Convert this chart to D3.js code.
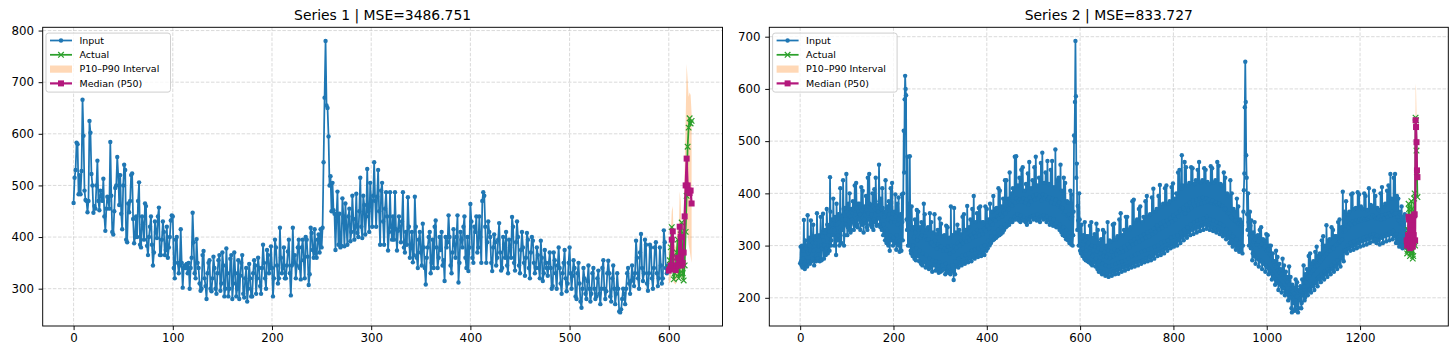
<!DOCTYPE html>
<html><head><meta charset="utf-8">
<script src="https://cdn.jsdelivr.net/npm/d3@7"></script>
<style>body{margin:0;background:#fff;} svg{display:block;font-family:"DejaVu Sans",sans-serif;}</style>
</head><body><svg id="c" width="1456" height="357"></svg>
<script>
const s1Title = "Series 1 | MSE=3486.751";
const s2Title = "Series 2 | MSE=833.727";
const legendLabels = ["Input", "Actual", "P10\u2013P90 Interval", "Median (P50)"];
const s1XTicks = [0, 100, 200, 300, 400, 500, 600];
const s1YTicks = [300, 400, 500, 600, 700, 800];
const s2XTicks = [0, 200, 400, 600, 800, 1000, 1200];
const s2YTicks = [200, 300, 400, 500, 600, 700];

const s1Input = [
466,515,530,583,580,483,520, 483,528,666,596,490,472,470, 448,470,625,602,522,500,447,
460,455,500,548,470,452,490, 480,470,513,440,412,455,478, 470,455,584,480,410,405,450,
495,500,555,520,462,520,445, 415,500,540,530,395,390,465, 448,470,520,523,435,388,400,
440,400,470,506,385,380,440, 425,395,465,460,383,365,400, 420,440,385,345,370,430,410,
398,440,457,365,365,395,430, 410,365,375,420,360,380,400, 432,442,440,340,320,395,400,
350,330,345,415,350,302,340, 345,340,348,330,350,300,340, 360,447,390,330,320,396,350,
340,310,296,300,365,373,320, 305,280,330,350,355,300,295, 320,362,340,300,290,330,355,
365,296,310,370,345,285,300, 378,330,285,300,358,365,280, 310,370,330,285,300,355,280,
325,350,365,290,283,320,340, 275,300,348,320,285,285,330, 355,345,290,320,360,340,305,
290,340,385,350,320,300,375, 365,330,340,382,340,285,320, 395,380,345,310,320,418,360,
330,340,380,320,320,345,372, 395,330,287,345,418,350,365, 320,345,380,395,340,318,380,
395,355,320,400,395,362,307, 328,418,408,375,360,415,368, 360,395,405,370,415,380,418,
545,670,780,655,650,595,500, 518,450,505,452,445,375,440, 488,385,445,380,383,475,440,
382,465,420,385,440,455,392, 410,480,435,395,420,484,408, 400,450,515,420,398,480,462,
405,440,532,450,410,505,470, 420,480,545,470,420,478,530, 450,385,490,505,430,385,455,
487,440,374,410,487,420,395, 440,395,487,415,374,412,440, 420,390,430,487,380,370,410,
385,477,420,360,380,410,351, 365,478,420,360,340,395,410, 370,345,426,380,340,308,360,
380,400,410,330,350,395,340, 420,432,380,340,360,400,375, 410,345,355,315,400,380,390,
442,400,345,330,370,415,385, 360,400,442,312,350,410,395, 380,420,440,360,340,400,334,
380,464,430,360,350,420,410, 440,370,380,440,400,350,470, 487,480,420,350,390,430,410,
400,350,334,380,405,390,345, 360,395,427,370,335,340,400, 385,360,410,345,330,395,380,
360,439,420,350,335,390,430, 400,345,330,375,410,380,350, 325,360,408,395,340,320,370,
400,393,350,330,340,380,365, 340,320,393,360,315,330,375, 350,340,325,350,370,340,300,
305,370,355,330,300,345,380, 340,310,290,330,350,375,320, 295,310,350,380,330,300,325,
355,340,285,280,330,350,310, 275,263,300,340,320,290,280, 315,345,300,275,290,330,340,
300,280,285,320,335,290,270, 300,340,355,300,280,295,330, 354,330,285,275,320,345,300,
270,290,330,300,256,254,260, 280,300,290,270,300,330,340, 310,290,315,345,320,305,330,
393,360,320,300,370,406,340, 315,330,395,385,310,296,330, 385,380,320,300,340,380,390,
330,305,320,380,345,310,320, 413,390,340,330,345
];
const s1Actual = [340,355,380,419,360,318,330,345,370,395,320,330,405,428,330,316,345,410,480,575,612,630,620,625];
const s1P10 = [310,312,318,345,350,312,310,308,315,325,318,345,340,315,318,330,365,405,425,405,385,375,362,350];
const s1P50 = [335,338,345,395,411,340,338,336,345,360,345,420,400,345,350,370,440,500,552,500,490,485,490,465];
const s1P90 = [370,385,405,450,460,392,385,380,400,425,405,488,470,405,415,445,530,625,735,705,672,680,675,640];

const s2Input = [
266,298,270,262,300,258,275, 290,349,265,255,310,295,262, 300,260,358,285,270,315,300,
265,290,348,310,270,275,305, 340,290,262,300,318,305,270, 280,362,320,275,290,318,298,
270,320,355,300,272,295,318, 361,310,275,300,325,330,282, 295,370,340,285,300,335,320,
290,431,365,300,310,350,340, 320,390,350,300,330,355,340, 282,380,340,310,320,360,345,
300,360,410,330,305,355,350, 330,425,370,300,320,372,350, 340,437,365,320,335,380,360,
330,400,355,325,330,370,350, 345,385,370,330,340,415,360, 338,420,372,340,335,380,365,
350,380,360,330,345,412,368, 340,405,372,325,350,375,360, 342,395,368,335,330,430,362,
350,437,380,340,345,378,360, 335,400,375,330,350,408,370, 345,430,378,338,340,372,365,
352,455,385,340,335,390,370, 330,410,372,320,340,365,355, 310,425,365,305,330,375,350,
300,385,360,290,320,410,345, 310,420,362,300,315,365,345, 305,398,355,292,320,380,340,
300,392,350,288,310,360,335, 290,398,345,310,400,520,440, 580,625,600,588,350,330,470,
300,380,345,300,471,340,290, 285,375,330,280,300,335,315, 275,350,325,272,295,368,310,
280,365,330,270,290,335,315, 265,345,320,262,285,340,380, 268,360,318,258,282,330,312,
260,335,312,255,275,362,305, 258,345,305,250,272,325,300, 262,360,310,252,270,322,295,
255,330,302,248,268,352,298, 250,342,298,252,262,318,290, 255,320,295,245,265,338,290,
250,335,298,248,260,315,285, 245,375,300,250,262,320,288, 234,372,298,245,270,325,296,
260,340,305,258,275,330,300, 265,322,310,262,280,355,305, 268,360,312,265,282,330,308,
270,376,315,268,285,335,310, 275,350,320,270,290,370,315, 278,395,325,275,292,345,318,
280,362,330,278,295,372,320, 285,375,328,280,298,345,322, 284,345,332,282,300,375,328,
290,370,338,295,310,350,332, 300,380,345,305,318,365,340, 310,395,350,312,325,370,348,
315,372,355,318,330,410,352, 320,405,360,322,335,375,356, 325,390,365,330,340,425,362,
335,425,372,338,345,390,370, 340,440,378,345,350,400,376, 345,410,385,350,355,470,382,
350,471,390,352,360,415,385, 348,430,388,345,358,445,384, 350,450,390,348,355,405,382,
345,418,388,340,352,438,378, 350,460,392,345,355,410,385, 355,425,395,350,358,450,388,
352,470,398,348,360,415,390, 350,430,395,345,355,458,386, 355,478,398,350,358,420,390,
352,440,395,345,355,462,388, 348,418,392,340,352,445,383, 345,462,390,338,350,412,380,
340,484,388,335,345,425,378, 335,430,382,330,340,455,372, 325,405,372,320,335,430,362,
318,420,365,312,330,385,358, 310,382,360,305,325,405,352, 302,398,355,300,320,365,511,
499,575,692,586,430,457,330, 376,348,300,400,350,290,310, 285,340,315,280,295,320,308,
275,345,310,272,290,318,300, 270,318,305,268,285,338,296, 265,345,300,262,280,315,290,
268,322,298,260,275,342,288, 255,330,295,250,270,305,284, 250,312,292,245,265,330,280,
248,325,288,242,262,300,278, 245,345,290,240,260,310,276, 248,308,288,242,262,340,280,
250,342,292,245,265,312,283, 252,318,290,246,268,350,286, 255,362,295,250,270,320,288,
258,330,298,252,272,355,292, 260,355,302,255,275,330,296, 262,335,308,258,280,385,302,
265,388,312,260,282,345,305, 268,350,315,262,285,370,308, 270,375,318,265,288,345,312,
272,355,322,268,290,385,316, 275,395,325,270,292,355,318, 278,360,328,272,295,392,322,
280,409,332,275,298,365,326, 285,370,338,280,300,395,330, 288,416,342,282,305,375,334,
290,380,346,285,308,410,338, 295,415,348,290,310,380,342, 298,385,352,295,315,412,346,
302,419,358,298,318,390,350, 305,400,362,300,320,440,356, 310,445,368,305,325,410,473,
315,415,372,310,330,460,362, 320,450,378,315,335,415,368, 325,420,382,320,340,450,372,
330,448,386,322,345,418,376, 332,425,388,325,348,445,378, 335,460,390,328,350,420,380,
338,425,392,330,352,448,382, 340,445,390,332,355,422,385, 338,418,388,330,350,452,382,
335,448,386,328,348,420,380, 332,425,383,325,345,460,378, 330,453,380,322,342,418,376,
325,415,376,318,338,440,370, 320,430,370,312,332,400,363, 315,395,362,305,325,425,356,
305,400,352,298,318,370,348, 300,365,348,292,312,390,343, 295,375,342,288,305,350,338,
290,345,338,285,300,365,406, 438,565,652,575,473,430,360, 330,400,345,300,320,365,338,
295,348,318,272,285,325,308, 280,345,312,265,278,318,302, 275,320,308,260,272,330,298,
270,335,302,255,268,312,295, 265,310,298,250,262,322,290, 258,320,292,245,255,300,282,
250,300,278,235,245,285,270, 240,270,262,225,235,290,258, 232,278,252,215,228,265,248,
225,255,245,210,220,275,240, 218,262,238,205,212,250,232, 210,240,230,195,205,260,225,
200,240,215,180,172,225,212, 190,220,208,175,178,235,202, 185,230,202,172,180,215,198,
195,222,212,180,190,235,208, 205,262,222,195,200,245,230, 210,255,238,205,215,280,242,
215,285,248,210,225,265,252, 222,270,255,215,230,288,260, 228,298,262,222,238,280,268,
235,285,270,230,245,310,275, 240,318,278,235,250,300,282, 245,339,285,240,255,310,290,
250,312,290,245,262,335,296, 255,330,295,250,268,318,300, 260,318,302,255,272,345,306,
265,350,308,260,278,335,312, 275,403,328,270,290,365,328, 290,385,338,285,300,360,335,
295,365,342,290,305,398,340, 298,400,346,292,308,370,343, 300,372,348,295,310,402,346,
305,398,350,298,312,375,348, 308,370,352,300,315,400,350, 310,395,350,302,318,368,352,
312,410,355,305,320,378,353, 315,375,358,308,322,405,355, 312,395,352,305,320,372,352,
310,368,355,302,318,400,350, 315,412,358,305,320,375,352, 318,380,360,308,322,405,355,
320,415,362,310,325,437,358, 322,390,365,312,328,430,360, 318,437,362,305,322,395,355,
305,390,348,298,312,365,342, 300,375,342,295,308,355,338, 298,360,332,296,310
];
const s2Actual = [300,285,290,330,380,370,295,280,285,300,385,370,290,275,280,305,390,400,300,545,540,482,440,393];
const s2P10 = [285,280,282,295,322,318,280,275,278,288,312,318,282,278,282,295,328,332,290,470,465,440,400,385];
const s2P50 = [310,300,305,320,355,350,300,295,300,310,340,350,300,298,305,320,358,360,310,540,527,498,444,431];
const s2P90 = [335,325,330,350,392,385,325,318,325,335,378,385,325,320,330,345,398,405,340,610,600,560,505,480];

const C_IN = "#1f77b4", C_ACT = "#2ca02c", C_BAND = "#ff7f0e", C_MED = "#b3177c";
const svg = d3.select("#c");

function xMark(sel, s) {
  return sel.append("path").attr("d", `M${-s},${-s}L${s},${s}M${-s},${s}L${s},${-s}`);
}

function drawPanel(cfg) {
  const {x0, x1, y0, y1} = cfg.box;
  const g = svg.append("g");
  const n = cfg.input.length, m = cfg.actual.length, last = n + m - 1;
  const x = d3.scaleLinear().domain([-0.05 * last, 1.05 * last]).range([x0, x1]);
  const all = [...cfg.input, ...cfg.actual, ...cfg.p10, ...cfg.p50, ...cfg.p90];
  const lo = d3.min(all), hi = d3.max(all), pad = 0.05 * (hi - lo);
  const y = d3.scaleLinear().domain([lo - pad, hi + pad]).range([y1, y0]);

  const clipId = "clip" + cfg.id;
  svg.append("clipPath").attr("id", clipId).append("rect")
    .attr("x", x0).attr("y", y0).attr("width", x1 - x0).attr("height", y1 - y0);

  const grid = g.append("g").attr("stroke", "#b0b0b0").attr("stroke-opacity", 0.5)
    .attr("stroke-width", 0.95).attr("stroke-dasharray", "3.5,1.6");
  grid.selectAll(".gx").data(cfg.xTicks).join("line")
    .attr("x1", d => x(d)).attr("x2", d => x(d)).attr("y1", y0).attr("y2", y1);
  grid.selectAll(".gy").data(cfg.yTicks).join("line")
    .attr("y1", d => y(d)).attr("y2", d => y(d)).attr("x1", x0).attr("x2", x1);

  const plot = g.append("g").attr("clip-path", `url(#${clipId})`);

  const band = cfg.p10.map((v, i) => ({i: n + i, lo: v, hi: cfg.p90[i]}));
  plot.append("path").datum(band)
    .attr("d", d3.area().x(d => x(d.i)).y0(d => y(d.lo)).y1(d => y(d.hi)))
    .attr("fill", C_BAND).attr("fill-opacity", 0.3);

  const line = d3.line().x(d => x(d.i)).y(d => y(d.v));

  const inp = cfg.input.map((v, i) => ({i, v}));
  plot.append("path").datum(inp).attr("d", line).attr("fill", "none")
    .attr("stroke", C_IN).attr("stroke-width", 1.75).attr("stroke-linejoin", "round");
  plot.append("g").attr("fill", C_IN).selectAll("circle").data(inp).join("circle")
    .attr("cx", d => x(d.i)).attr("cy", d => y(d.v)).attr("r", 2.2);

  const act = cfg.actual.map((v, i) => ({i: n + i, v}));
  plot.append("path").datum(act).attr("d", line).attr("fill", "none")
    .attr("stroke", C_ACT).attr("stroke-width", 1.75);
  const ag = plot.append("g").attr("stroke", C_ACT).attr("stroke-width", 1.2).attr("fill", "none");
  act.forEach(d => xMark(ag.append("g").attr("transform", `translate(${x(d.i)},${y(d.v)})`), 2.8));

  const med = cfg.p50.map((v, i) => ({i: n + i, v}));
  plot.append("path").datum(med).attr("d", line).attr("fill", "none")
    .attr("stroke", C_MED).attr("stroke-width", 2.2);
  plot.append("g").attr("fill", C_MED).selectAll("rect").data(med).join("rect")
    .attr("x", d => x(d.i) - 3).attr("y", d => y(d.v) - 3).attr("width", 6).attr("height", 6);

  const ax = g.append("g").attr("transform", `translate(0,${y1})`)
    .call(d3.axisBottom(x).tickValues(cfg.xTicks).tickSize(4.1).tickPadding(3.8).tickFormat(d3.format("d")));
  const ay = g.append("g").attr("transform", `translate(${x0},0)`)
    .call(d3.axisLeft(y).tickValues(cfg.yTicks).tickSize(4.1).tickPadding(4.6).tickFormat(d3.format("d")));
  [ax, ay].forEach(a => {
    a.select(".domain").remove();
    a.attr("font-family", "DejaVu Sans, sans-serif").attr("font-size", 11.8);
    a.selectAll("line").attr("stroke", "#000").attr("stroke-width", 0.95);
    a.selectAll("text").attr("fill", "#000");
  });

  g.append("rect").attr("x", x0).attr("y", y0).attr("width", x1 - x0).attr("height", y1 - y0)
    .attr("fill", "none").attr("stroke", "#000").attr("stroke-width", 0.95);

  g.append("text").attr("x", (x0 + x1) / 2).attr("y", 20).attr("text-anchor", "middle")
    .attr("font-size", 13.9).attr("fill", "#000").text(cfg.title);

  const lg = g.append("g").attr("transform", `translate(${x0 + 3.3},${y0 + 5.8})`);
  lg.append("rect").attr("width", 124.5).attr("height", 59).attr("rx", 2.5)
    .attr("fill", "#fff").attr("fill-opacity", 0.8).attr("stroke", "#cccccc").attr("stroke-width", 0.95);
  const rowY = i => 7.4 + i * 14.3;
  const hx0 = 4, hx1 = 26, hxm = 15, tx = 33.5;
  legendLabels.forEach((lab, i) => {
    const ry = rowY(i);
    if (i === 0) {
      lg.append("line").attr("x1", hx0).attr("x2", hx1).attr("y1", ry).attr("y2", ry).attr("stroke", C_IN).attr("stroke-width", 1.75);
      lg.append("circle").attr("cx", hxm).attr("cy", ry).attr("r", 2.2).attr("fill", C_IN);
    } else if (i === 1) {
      lg.append("line").attr("x1", hx0).attr("x2", hx1).attr("y1", ry).attr("y2", ry).attr("stroke", C_ACT).attr("stroke-width", 1.75);
      xMark(lg.append("g").attr("transform", `translate(${hxm},${ry})`).attr("stroke", C_ACT).attr("stroke-width", 1.2), 2.8);
    } else if (i === 2) {
      lg.append("rect").attr("x", hx0).attr("y", ry - 3.6).attr("width", hx1 - hx0).attr("height", 7.2)
        .attr("fill", C_BAND).attr("fill-opacity", 0.3);
    } else {
      lg.append("line").attr("x1", hx0).attr("x2", hx1).attr("y1", ry).attr("y2", ry).attr("stroke", C_MED).attr("stroke-width", 2.2);
      lg.append("rect").attr("x", hxm - 3).attr("y", ry - 3).attr("width", 6).attr("height", 6).attr("fill", C_MED);
    }
    lg.append("text").attr("x", tx).attr("y", ry).attr("dy", "0.35em").attr("font-size", 9.5)
      .attr("fill", "#000").text(lab);
  });
}

drawPanel({id: 1, box: {x0: 42.7, x1: 722.5, y0: 27.3, y1: 326}, title: s1Title,
  input: s1Input, actual: s1Actual, p10: s1P10, p50: s1P50, p90: s1P90, xTicks: s1XTicks, yTicks: s1YTicks});
drawPanel({id: 2, box: {x0: 769.3, x1: 1448.3, y0: 27.3, y1: 326}, title: s2Title,
  input: s2Input, actual: s2Actual, p10: s2P10, p50: s2P50, p90: s2P90, xTicks: s2XTicks, yTicks: s2YTicks});
</script>
</body></html>
